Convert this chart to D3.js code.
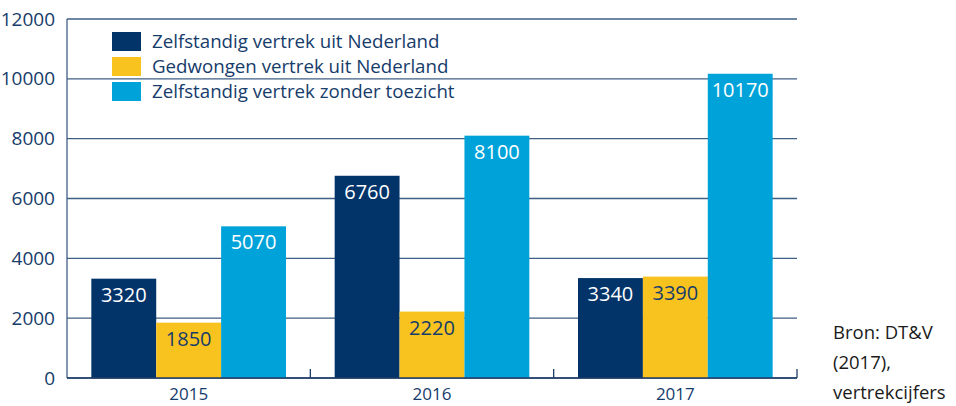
<!DOCTYPE html>
<html>
<head>
<meta charset="utf-8">
<script src="https://cdn.jsdelivr.net/npm/d3@7"></script>
<style>
  body { margin: 0; background: #fff; }
  svg text { font-family: "Open Sans", "Noto Sans", sans-serif; }
</style>
</head>
<body>
<div id="chart"></div>
<script>
const years = ['2015', '2016', '2017'];
const seriesNames = [
    'Zelfstandig vertrek uit Nederland',
    'Gedwongen vertrek uit Nederland',
    'Zelfstandig vertrek zonder toezicht'
];
const zelfstandig = [3320, 6760, 3340];
const gedwongen = [1850, 2220, 3390];
const zonderToezicht = [5070, 8100, 10170];
const yTicks = [0, 2000, 4000, 6000, 8000, 10000, 12000];
const sourceLines = ['Bron: DT&V', '(2017),', 'vertrekcijfers'];

const seriesValues = [zelfstandig, gedwongen, zonderToezicht];
const colors = ['#02346a', '#f9c31f', '#00a3d9'];
const labelColors = ['#ffffff', '#163c6a', '#ffffff'];
const navy = '#163c6a';
const gridColor = '#3f5f85';

const width = 956, height = 406;
const margin = { left: 67, right: 159, top: 19, bottom: 28 };

const svg = d3.select('#chart').append('svg')
    .attr('width', width)
    .attr('height', height);

const x0 = d3.scaleBand()
    .domain(years)
    .range([margin.left, width - margin.right])
    .paddingInner(0.2)
    .paddingOuter(0.1);

const x1 = d3.scaleBand()
    .domain(d3.range(seriesNames.length))
    .range([0, x0.bandwidth()]);

const y = d3.scaleLinear()
    .domain([0, 12000])
    .range([height - margin.bottom, margin.top]);

// Gridlines
svg.append('g')
    .selectAll('line')
    .data(yTicks)
    .join('line')
    .attr('x1', margin.left)
    .attr('x2', width - margin.right)
    .attr('y1', d => y(d))
    .attr('y2', d => y(d))
    .attr('stroke', gridColor)
    .attr('stroke-width', 1.3);

// Y labels
svg.append('g')
    .selectAll('text')
    .data(yTicks)
    .join('text')
    .attr('x', margin.left - 12)
    .attr('y', d => y(d))
    .attr('dy', '0.35em')
    .attr('text-anchor', 'end')
    .attr('fill', navy)
    .attr('font-size', 19)
    .text(d => d);

// Left axis line
svg.append('line')
    .attr('x1', margin.left).attr('x2', margin.left)
    .attr('y1', y(12000)).attr('y2', y(0))
    .attr('stroke', gridColor)
    .attr('stroke-width', 1.3);

// Bars
const groups = svg.append('g')
    .selectAll('g')
    .data(years)
    .join('g')
    .attr('transform', d => `translate(${x0(d)},0)`);

groups.selectAll('rect')
    .data((d, i) => seriesValues.map((s, k) => ({ k, v: s[i] })))
    .join('rect')
    .attr('x', d => x1(d.k))
    .attr('width', x1.bandwidth())
    .attr('y', d => y(d.v))
    .attr('height', d => y(0) - y(d.v))
    .attr('fill', d => colors[d.k]);

groups.selectAll('text')
    .data((d, i) => seriesValues.map((s, k) => ({ k, v: s[i] })))
    .join('text')
    .attr('x', d => x1(d.k) + x1.bandwidth() / 2)
    .attr('y', d => y(d.v) + 23)
    .attr('text-anchor', 'middle')
    .attr('fill', d => labelColors[d.k])
    .attr('font-size', 20)
    .text(d => d.v);

// X axis baseline and separator ticks
svg.append('line')
    .attr('x1', margin.left).attr('x2', width - margin.right)
    .attr('y1', y(0)).attr('y2', y(0))
    .attr('stroke', '#1f3d66')
    .attr('stroke-width', 1.5);

const step = x0.step();
svg.append('g')
    .selectAll('line')
    .data(d3.range(1, years.length + 1))
    .join('line')
    .attr('x1', i => margin.left + i * step)
    .attr('x2', i => margin.left + i * step)
    .attr('y1', y(0))
    .attr('y2', y(0) - 9)
    .attr('stroke', '#1f3d66')
    .attr('stroke-width', 1.3);

// X labels
svg.append('g')
    .selectAll('text')
    .data(years)
    .join('text')
    .attr('x', d => x0(d) + x0.bandwidth() / 2)
    .attr('y', 400)
    .attr('text-anchor', 'middle')
    .attr('fill', navy)
    .attr('font-size', 17)
    .text(d => d);

// Legend
const legend = svg.append('g')
    .selectAll('g')
    .data(seriesNames)
    .join('g')
    .attr('transform', (d, i) => `translate(112,${32 + i * 25})`);

legend.append('rect')
    .attr('width', 29)
    .attr('height', 19)
    .attr('fill', (d, i) => colors[i]);

legend.append('text')
    .attr('x', 40)
    .attr('y', 16)
    .attr('fill', navy)
    .attr('font-size', 18.7)
    .text(d => d);

// Source note
svg.append('g')
    .selectAll('text')
    .data(sourceLines)
    .join('text')
    .attr('x', 833)
    .attr('y', (d, i) => 339 + i * 30)
    .attr('fill', '#1a1a1a')
    .attr('font-size', 18.5)
    .text(d => d);
</script>
</body>
</html>
